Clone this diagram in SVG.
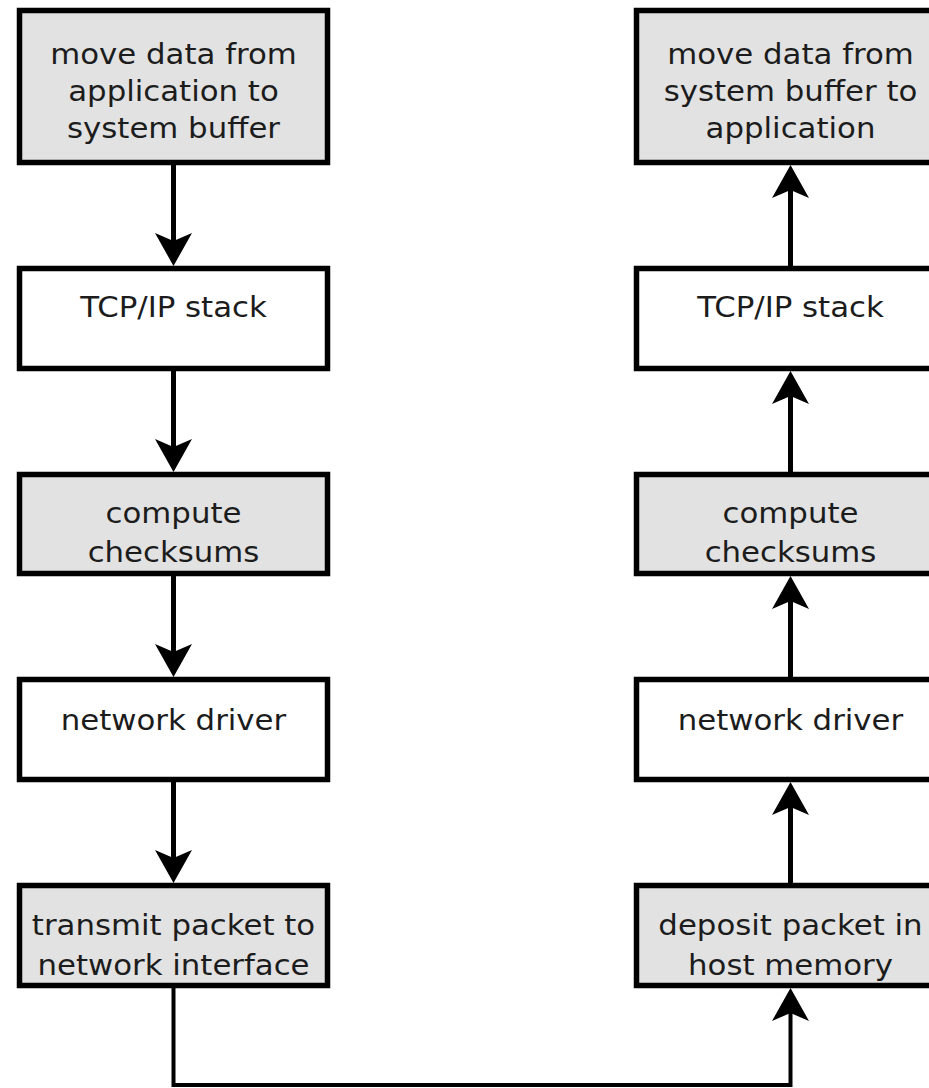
<svg xmlns="http://www.w3.org/2000/svg" width="929" height="1088" viewBox="0 0 929 1088">
  <style>
    .box { stroke: #000; stroke-width: 5.5; }
    .gray { fill: #e2e2e2; }
    .white { fill: #ffffff; }
    .lbl { font-family: "DejaVu Sans", "Liberation Sans", sans-serif; font-size: 28px; fill: #1c1c1c; text-anchor: middle; }
    .conn { fill: none; stroke: #000; stroke-width: 5; }
    .conn2 { fill: none; stroke: #000; stroke-width: 4; }
  </style>
  <defs>
    <marker id="arr" markerUnits="userSpaceOnUse" viewBox="0 -20 34 40" refX="8" refY="0" markerWidth="34" markerHeight="40" orient="auto">
      <path d="M0,-18.5 L33,0 L0,18.5 L8,0 Z" fill="#000"/>
    </marker>
  </defs>
  <rect width="929" height="1088" fill="#ffffff"/>

  <g id="connectors">
    <line class="conn" x1="173.5" y1="165" x2="173.5" y2="241" marker-end="url(#arr)"/>
    <line class="conn" x1="173.5" y1="371" x2="173.5" y2="447" marker-end="url(#arr)"/>
    <line class="conn" x1="173.5" y1="576" x2="173.5" y2="652" marker-end="url(#arr)"/>
    <line class="conn" x1="173.5" y1="782" x2="173.5" y2="858" marker-end="url(#arr)"/>
    <line class="conn" x1="790.5" y1="266" x2="790.5" y2="190" marker-end="url(#arr)"/>
    <line class="conn" x1="790.5" y1="472" x2="790.5" y2="396" marker-end="url(#arr)"/>
    <line class="conn" x1="790.5" y1="677" x2="790.5" y2="601" marker-end="url(#arr)"/>
    <line class="conn" x1="790.5" y1="883" x2="790.5" y2="807" marker-end="url(#arr)"/>
    <polyline class="conn2" points="173.5,988 173.5,1085 790.5,1085 790.5,1013" marker-end="url(#arr)"/>
  </g>

  <g id="send-move">
    <rect class="box gray" x="19.5" y="10.5" width="308" height="152"/>
    <text class="lbl" transform="translate(173.5,0) scale(1.1,1)"><tspan x="0" y="64">move data from</tspan><tspan x="0" y="101">application to</tspan><tspan x="0" y="138">system buffer</tspan></text>
  </g>
  <g id="send-tcpip">
    <rect class="box white" x="19.5" y="268.5" width="308" height="100"/>
    <text class="lbl" transform="translate(173.5,317) scale(1.1,1)" x="0" y="0">TCP/IP stack</text>
  </g>
  <g id="send-checksum">
    <rect class="box gray" x="19.5" y="474.5" width="308" height="99"/>
    <text class="lbl" transform="translate(173.5,0) scale(1.1,1)"><tspan x="0" y="523">compute</tspan><tspan x="0" y="562">checksums</tspan></text>
  </g>
  <g id="send-driver">
    <rect class="box white" x="19.5" y="679.5" width="308" height="100"/>
    <text class="lbl" transform="translate(173.5,730) scale(1.1,1)" x="0" y="0">network driver</text>
  </g>
  <g id="send-transmit">
    <rect class="box gray" x="19.5" y="885.5" width="308" height="100"/>
    <text class="lbl" transform="translate(173.5,0) scale(1.1,1)"><tspan x="0" y="935">transmit packet to</tspan><tspan x="0" y="975">network interface</tspan></text>
  </g>

  <g id="recv-move">
    <rect class="box gray" x="636.5" y="10.5" width="308" height="152"/>
    <text class="lbl" transform="translate(790.5,0) scale(1.1,1)"><tspan x="0" y="64">move data from</tspan><tspan x="0" y="101">system buffer to</tspan><tspan x="0" y="138">application</tspan></text>
  </g>
  <g id="recv-tcpip">
    <rect class="box white" x="636.5" y="268.5" width="308" height="100"/>
    <text class="lbl" transform="translate(790.5,317) scale(1.1,1)" x="0" y="0">TCP/IP stack</text>
  </g>
  <g id="recv-checksum">
    <rect class="box gray" x="636.5" y="474.5" width="308" height="99"/>
    <text class="lbl" transform="translate(790.5,0) scale(1.1,1)"><tspan x="0" y="523">compute</tspan><tspan x="0" y="562">checksums</tspan></text>
  </g>
  <g id="recv-driver">
    <rect class="box white" x="636.5" y="679.5" width="308" height="100"/>
    <text class="lbl" transform="translate(790.5,730) scale(1.1,1)" x="0" y="0">network driver</text>
  </g>
  <g id="recv-deposit">
    <rect class="box gray" x="636.5" y="885.5" width="308" height="100"/>
    <text class="lbl" transform="translate(790.5,0) scale(1.1,1)"><tspan x="0" y="935">deposit packet in</tspan><tspan x="0" y="975">host memory</tspan></text>
  </g>
</svg>
